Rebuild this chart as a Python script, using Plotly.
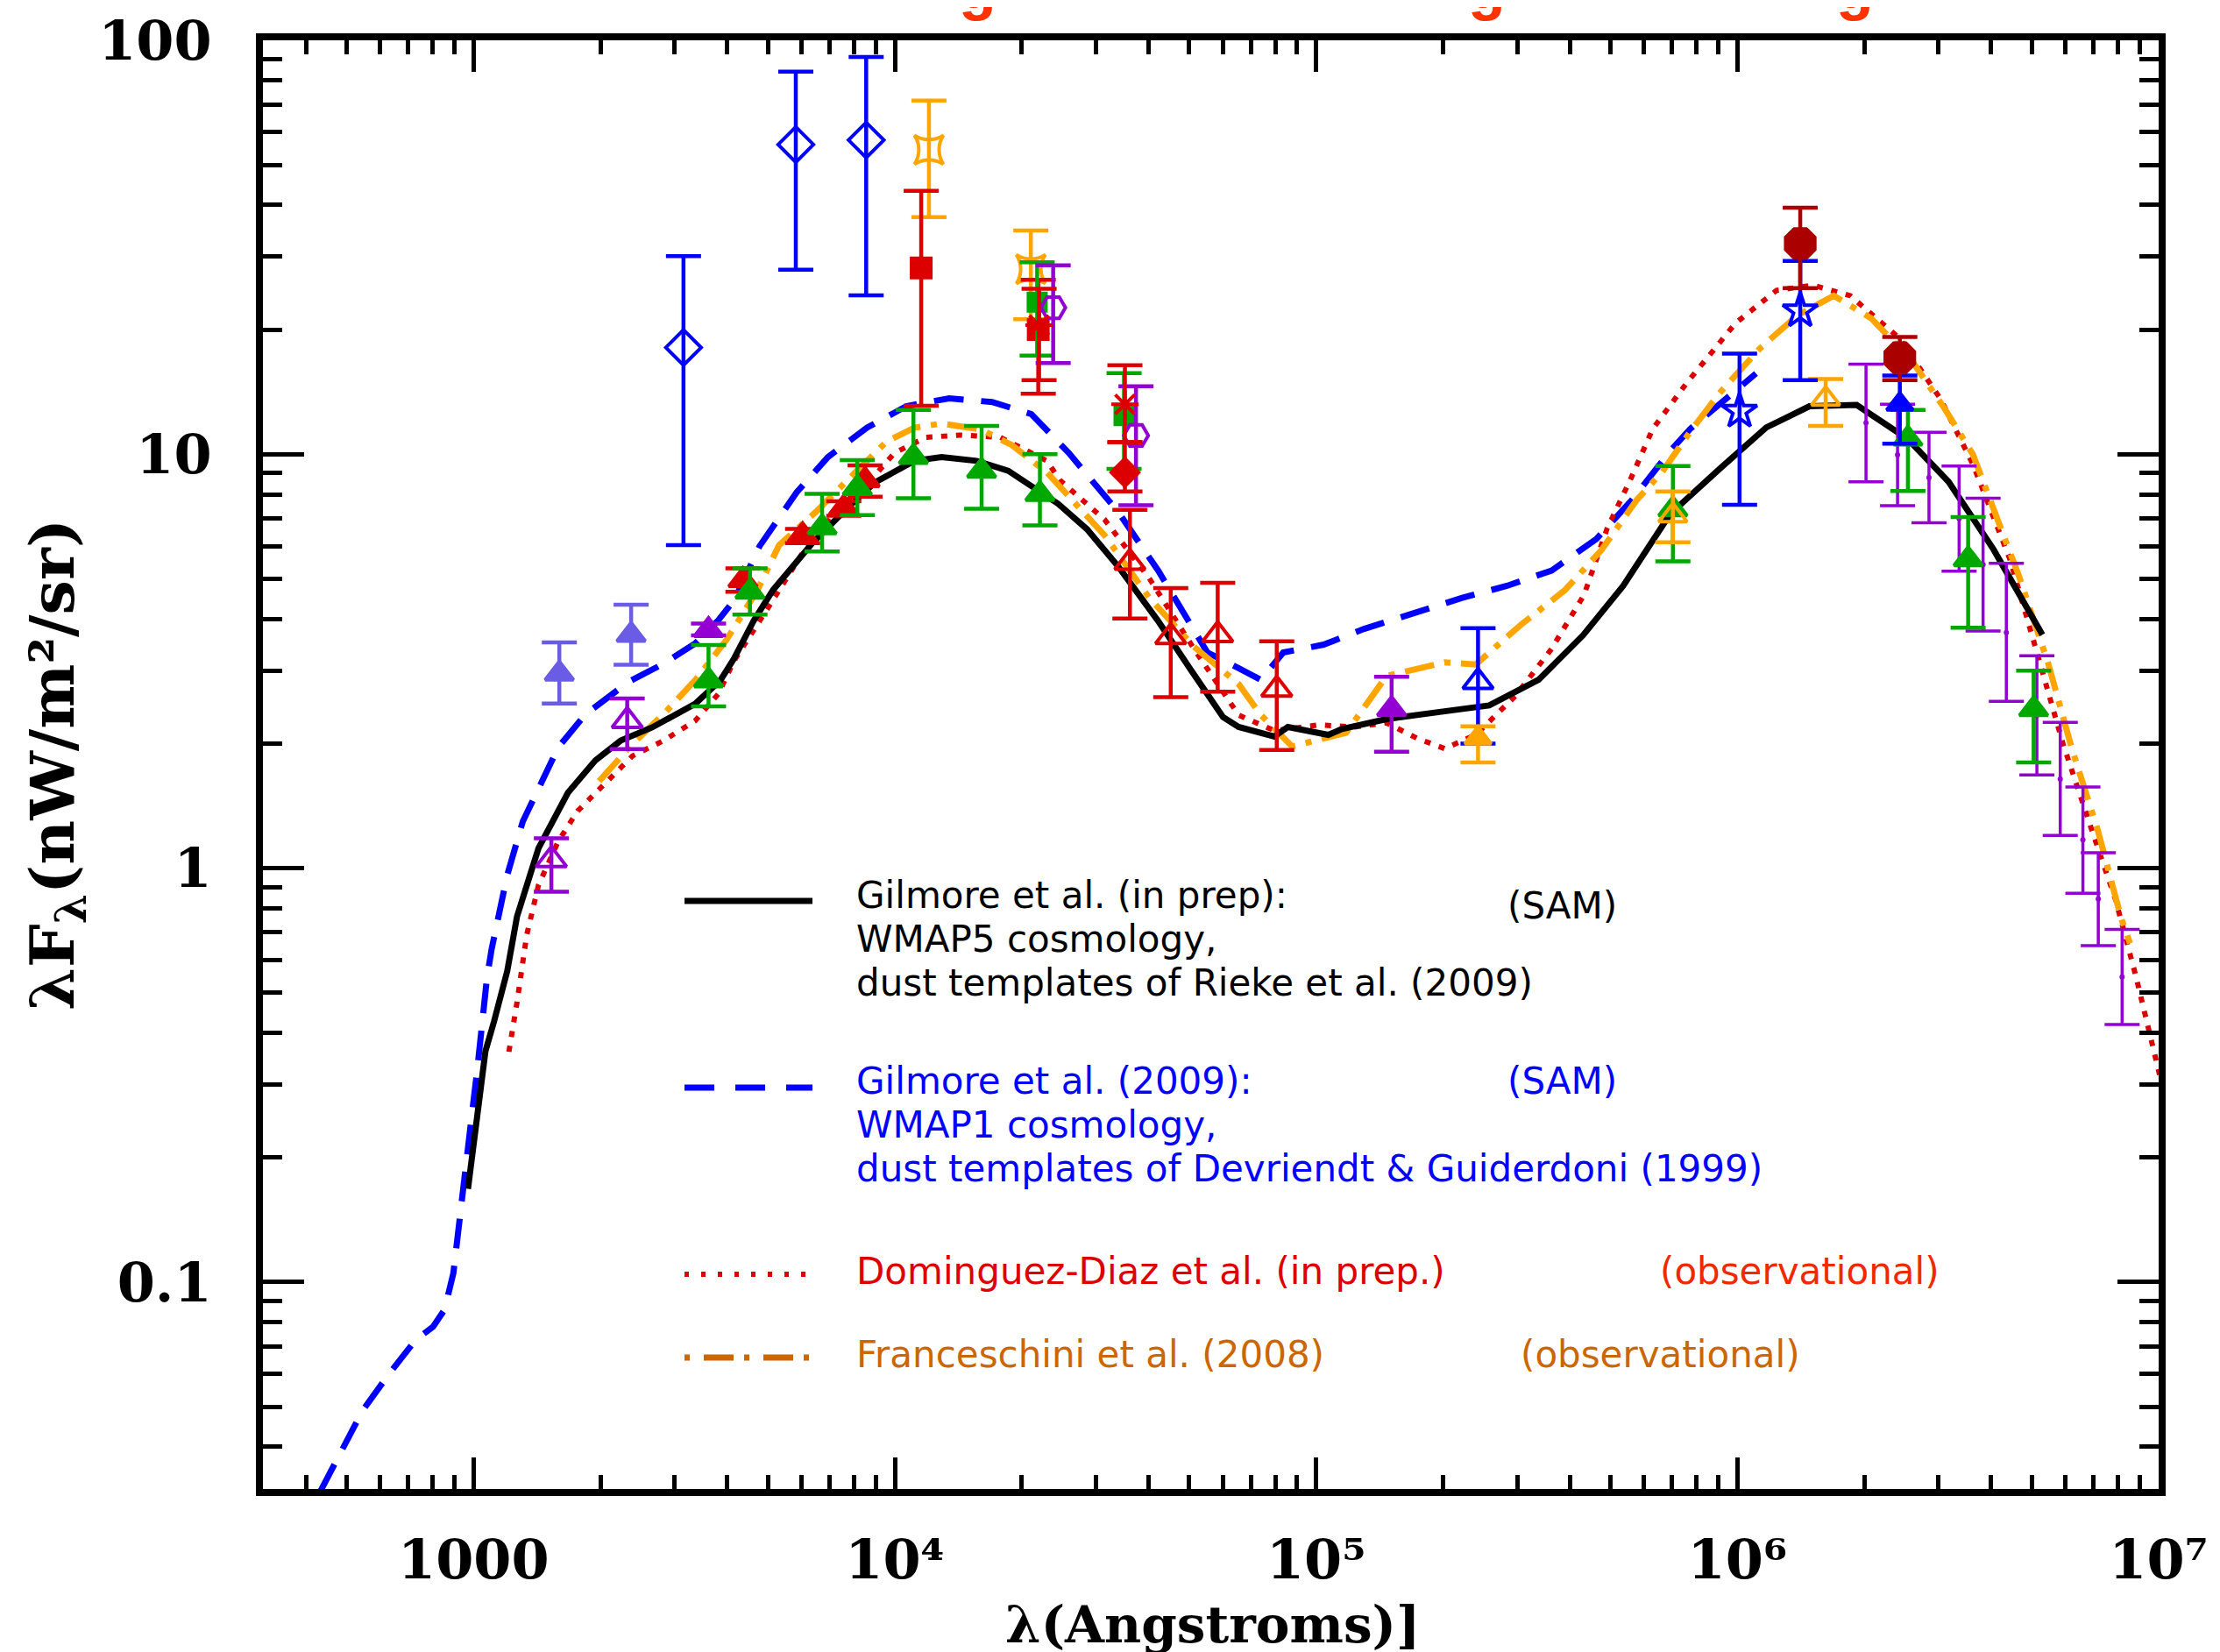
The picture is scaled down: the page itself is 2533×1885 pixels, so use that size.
import plotly.graph_objects as go

# ---------------- model curves (wavelength in Angstrom, nuFnu in nW/m^2/sr) -------------
gil_wl = [970, 1019, 1067, 1119, 1202, 1268, 1426, 1675, 1945, 2234, 2655, 3357, 3855, 4150,
          4624, 5140, 6368, 7727, 8974, 11120, 12910, 15630, 18580, 24430, 28580, 33880, 42170,
          50120, 60120, 65460, 79620, 85700, 106900, 115100, 146900, 201800, 257600, 337300,
          430500, 535800, 691800, 905700, 1.172e6, 1.483e6, 1.919e6, 2.535e6, 3.170e6, 4.055e6,
          5.297e6]
gil_f = [0.168, 0.253, 0.361, 0.427, 0.564, 0.764, 1.117, 1.521, 1.820, 2.032, 2.188, 2.495,
         2.844, 3.206, 3.963, 4.699, 6.095, 7.430, 8.551, 9.638, 9.840, 9.638, 9.120, 7.586,
         6.592, 5.358, 3.954, 3.041, 2.317, 2.193, 2.080, 2.193, 2.099, 2.168, 2.291, 2.393,
         2.472, 2.851, 3.656, 4.808, 7.161, 9.204, 11.61, 13.06, 13.15, 10.89, 8.590, 5.888,
         3.664]

g09_wl = [433.5, 488.7, 545.8, 631, 727.8, 801.7, 853.1, 895.4, 924.7, 955, 986.3, 1019, 1050,
          1076, 1104, 1202, 1309, 1426, 1589, 1845, 2333, 2825, 3357, 3811, 4159, 4775, 5848,
          6934, 8590, 10640, 13460, 17020, 21090, 25880, 33880, 42170, 55210, 65460, 73960,
          83560, 104200, 130000, 174200, 222300, 283800, 362200, 462400, 562300, 698200,
          772700, 1.107e6]
g09_f = [0.0313, 0.0399, 0.0490, 0.0601, 0.0724, 0.0780, 0.0857, 0.105, 0.136, 0.177, 0.244,
         0.322, 0.427, 0.543, 0.638, 0.962, 1.297, 1.563, 1.959, 2.355, 2.818, 3.119, 3.491,
         3.972, 4.446, 5.998, 8.091, 9.840, 11.59, 13.06, 13.65, 13.37, 12.50, 10.07, 7.261,
         5.236, 3.319, 3.041, 2.851, 3.319, 3.467, 3.784, 4.169, 4.498, 4.808, 5.236, 6.237,
         7.762, 10.28, 11.51, 15.67]

dom_wl = [1213, 1268, 1337, 1426, 1589, 1766, 1968, 2382, 2825, 3357, 3811, 4159, 5140, 6109,
          7244, 8590, 9977, 11860, 14360, 17780, 22960, 24660, 31480, 40180, 51290, 65460,
          79620, 101600, 123600, 146900, 174200, 201800, 239300, 297800, 362200, 432500,
          490900, 558500, 629500, 756800, 990800, 1.239e6, 1.514e6, 1.854e6, 2.427e6, 3.034e6,
          3.622e6, 4.436e6, 5.058e6, 5.929e6, 6.950e6, 7.907e6, 8.831e6, 1.005e7]
dom_f = [0.360, 0.474, 0.689, 0.910, 1.161, 1.374, 1.535, 1.866, 2.032, 2.270, 2.636, 3.177,
         4.446, 5.888, 7.261, 8.453, 10.07, 10.99, 11.12, 10.99, 9.638, 8.650, 6.950, 5.012,
         3.388, 2.344, 2.148, 2.218, 2.193, 2.244, 2.056, 1.945, 2.099, 2.612, 3.388, 4.571,
         6.622, 8.730, 11.51, 14.83, 20.75, 24.89, 25.59, 24.15, 19.05, 13.61, 9.462, 5.572,
         3.516, 1.995, 1.230, 0.837, 0.548, 0.317]

fra_wl = [1986, 2382, 2825, 3357, 3981, 4721, 5309, 6501, 8054, 9572, 11120, 12910, 16000,
          18970, 22960, 31480, 40180, 51290, 65460, 73960, 87700, 117800, 146900, 201800,
          239300, 305500, 389900, 475300, 575400, 663700, 767400, 905700, 1.132e6, 1.387e6,
          1.694e6, 2.075e6, 2.594e6, 3.105e6, 3.622e6, 4.345e6, 4.667e6, 5.470e6, 6.209e6,
          7.178e6, 8.147e6, 8.551e6]
fra_f = [1.622, 1.995, 2.355, 2.844, 3.556, 4.699, 6.026, 7.261, 9.036, 10.74, 11.59, 11.86,
         11.48, 10.52, 9.036, 6.368, 4.498, 3.428, 2.786, 2.344, 1.968, 2.123, 2.911, 3.141,
         3.105, 3.864, 4.699, 5.861, 7.727, 9.078, 11.22, 14.03, 18.03, 21.63, 24.15, 21.33,
         16.83, 12.88, 10.0, 6.053, 5.058, 3.119, 1.959, 1.230, 0.757, 0.658]

# ---------------- data points: wavelength, value, upper end, lower end -------------------
bdia_wl = [3150, 5820, 8550]
bdia_f = [18.1, 56.0, 57.4]
bdia_hi = [30.1, 84.0, 91.2]
bdia_lo = [6.03, 27.9, 24.2]

ostar_wl = [12050, 21030]
ostar_f = [54.4, 28.0]
ostar_hi = [71.5, 34.7]
ostar_lo = [37.4, 21.2]

rsq_wl = [11550, 21900]
rsq_f = [28.2, 20.0]
rsq_hi = [43.3, 26.4]
rsq_lo = [13.1, 14.0]

gsq_wl = [21770, 35000]
gsq_f = [23.3, 12.4]
gsq_hi = [29.1, 15.7]
gsq_lo = [17.3, 9.22]

phex_wl = [23760, 37360]
phex_f = [22.6, 11.1]
phex_hi = [28.6, 14.6]
phex_lo = [16.6, 7.53]

rast_wl = [22000, 35170]
rast_f = [20.5, 13.2]
rast_hi = [25.1, 16.4]
rast_lo = [15.1, 10.7]

rdia_wl = [35170]
rdia_f = [9.04]
rdia_hi = [10.7]
rdia_lo = [8.13]

rtri_o_wl = [36140, 45180, 58400, 80650]
rtri_o_f = [5.47, 3.62, 3.66, 2.70]
rtri_o_hi = [7.34, 4.75, 4.89, 3.53]
rtri_o_lo = [4.01, 2.59, 2.67, 1.93]

ptri_wl = [3612, 151100]
ptri_f = [3.76, 2.42]
ptri_hi = [3.90, 2.90]
ptri_lo = [3.65, 1.91]

btri_o_wl = [242300]
btri_o_f = [2.82]
btri_o_hi = [3.80]
btri_o_lo = [2.00]

otri_wl = [242300]
otri_f = [2.06]
otri_hi = [2.20]
otri_lo = [1.80]

gtri_wl = [3612, 4530, 6720, 8147, 11070, 16070, 22100, 7.03e5, 2.54e6, 3.53e6, 5.05e6]
gtri_f = [2.84, 4.65, 6.66, 8.28, 9.85, 9.12, 8.01, 7.36, 10.9, 5.57, 2.42]
gtri_hi = [3.46, 5.30, 8.02, 9.68, 12.8, 11.7, 10.0, 9.36, 12.8, 7.05, 3.00]
gtri_lo = [2.46, 4.10, 5.82, 7.13, 7.83, 7.38, 6.73, 5.51, 8.15, 3.81, 1.80]

rtri_wl = [4360, 6040, 7565, 8500]
rtri_f = [4.96, 6.37, 7.42, 8.65]
rtri_hi = [5.30, 6.60, 7.70, 9.40]
rtri_lo = [4.65, 6.10, 7.10, 7.90]

stri_wl = [1598, 2366]
stri_f = [2.95, 3.66]
stri_hi = [3.51, 4.33]
stri_lo = [2.50, 3.10]

ptri_o_wl = [1530, 2316]
ptri_o_f = [1.047, 2.27]
ptri_o_hi = [1.18, 2.57]
ptri_o_lo = [0.877, 1.94]

doct_wl = [1.41e6, 2.43e6]
doct_f = [32.3, 17.1]
doct_hi = [39.4, 19.2]
doct_lo = [25.2, 15.1]

bstar_wl = [1.012e6, 1.41e6]
bstar_f = [12.7, 22.2]
bstar_hi = [17.5, 29.3]
bstar_lo = [7.55, 15.1]

btri_wl = [2.43e6]
btri_f = [13.2]
btri_hi = [15.5]
btri_lo = [10.6]

otri_o_wl = [7.03e5, 1.62e6]
otri_o_f = [7.11, 13.6]
otri_o_hi = [8.13, 15.2]
otri_o_lo = [6.13, 11.7]

pbar_wl = [2.02e6, 2.40e6, 2.85e6, 3.36e6, 3.83e6, 4.35e6, 5.14e6, 5.84e6, 6.61e6, 7.19e6, 8.19e6]
pbar_f = [11.9, 9.96, 8.78, 6.99, 5.41, 3.71, 2.34, 1.64, 1.17, 0.842, 0.546]
pbar_hi = [16.5, 13.2, 11.3, 9.36, 7.83, 5.45, 3.26, 2.25, 1.57, 1.09, 0.711]
pbar_lo = [8.58, 7.51, 6.83, 5.22, 3.74, 2.53, 1.68, 1.20, 0.87, 0.65, 0.419]

# ---------------- tick labels -------------------
x_tickvals = [1000, 1e4, 1e5, 1e6, 1e7]
x_ticktext = ["1000", "10⁴", "10⁵", "10⁶", "10⁷"]
y_tickvals = [0.1, 1, 10, 100]
y_ticktext = ["0.1", "1", "10", "100"]

BLUE = "#0000ff"
ORANGE = "#ffa500"
RED = "#dd0000"
GREEN = "#00a800"
PURPLE = "#9400d3"
SLATE = "#6b5ce6"
DARKRED = "#aa0000"

fig = go.Figure()

# model lines
fig.add_trace(go.Scatter(x=g09_wl, y=g09_f, mode="lines",
                         line=dict(color=BLUE, width=7, dash="34px,20px")))
fig.add_trace(go.Scatter(x=dom_wl, y=dom_f, mode="lines",
                         line=dict(color=RED, width=6, dash="7px,10px")))
fig.add_trace(go.Scatter(x=fra_wl, y=fra_f, mode="lines",
                         line=dict(color=ORANGE, width=7, dash="34px,12px,7px,12px")))
fig.add_trace(go.Scatter(x=gil_wl, y=gil_f, mode="lines",
                         line=dict(color="black", width=7)))


def add_pts(wl, f, hi, lo, color, symbol, size, lw=4, ethick=4.5, ewidth=20):
    plus = [h - v for h, v in zip(hi, f)]
    minus = [v - l for v, l in zip(f, lo)]
    fig.add_trace(go.Scatter(
        x=wl, y=f, mode="markers",
        marker=dict(symbol=symbol, size=size, color=color,
                    line=dict(color=color, width=lw)),
        error_y=dict(type="data", symmetric=False, array=plus, arrayminus=minus,
                     color=color, thickness=ethick, width=ewidth),
    ))


add_pts(pbar_wl, pbar_f, pbar_hi, pbar_lo, PURPLE, "circle", 0, lw=0, ethick=3.5, ewidth=20)
add_pts(bdia_wl, bdia_f, bdia_hi, bdia_lo, BLUE, "diamond-open", 31)
add_pts(ostar_wl, ostar_f, ostar_hi, ostar_lo, ORANGE, "star-square-open", 30)
add_pts(rsq_wl, rsq_f, rsq_hi, rsq_lo, RED, "square", 22)
add_pts(gsq_wl, gsq_f, gsq_hi, gsq_lo, GREEN, "square", 20)
add_pts(phex_wl, phex_f, phex_hi, phex_lo, PURPLE, "hexagon2-open", 28)
add_pts(rast_wl, rast_f, rast_hi, rast_lo, RED, "asterisk-open", 26)
add_pts(rdia_wl, rdia_f, rdia_hi, rdia_lo, RED, "diamond", 24)
add_pts(rtri_o_wl, rtri_o_f, rtri_o_hi, rtri_o_lo, RED, "triangle-up-open", 30)
add_pts(ptri_wl, ptri_f, ptri_hi, ptri_lo, PURPLE, "triangle-up", 28)
add_pts(btri_o_wl, btri_o_f, btri_o_hi, btri_o_lo, BLUE, "triangle-up-open", 30)
add_pts(otri_wl, otri_f, otri_hi, otri_lo, ORANGE, "triangle-up", 26)
add_pts(rtri_wl, rtri_f, rtri_hi, rtri_lo, RED, "triangle-up", 28)
add_pts(gtri_wl, gtri_f, gtri_hi, gtri_lo, GREEN, "triangle-up", 28)
add_pts(stri_wl, stri_f, stri_hi, stri_lo, SLATE, "triangle-up", 28)
add_pts(ptri_o_wl, ptri_o_f, ptri_o_hi, ptri_o_lo, PURPLE, "triangle-up-open", 30)
add_pts(otri_o_wl, otri_o_f, otri_o_hi, otri_o_lo, ORANGE, "triangle-up-open", 28)
add_pts(bstar_wl, bstar_f, bstar_hi, bstar_lo, BLUE, "star-open", 30)
add_pts(btri_wl, btri_f, btri_hi, btri_lo, BLUE, "triangle-up", 26)
add_pts(doct_wl, doct_f, doct_hi, doct_lo, DARKRED, "octagon", 36)

# ---------------- layout -------------------
W, H = 2533, 1885
L, R, T, B = 292, 78, 38, 194
PW, PH = W - L - R, H - T - B


def px_x(px):
    return (px - L) / PW


def px_y(py):
    return (H - B - py) / PH


x_minor = [m * 10 ** e for e in range(2, 7) for m in range(2, 10) if m * 10 ** e > 316]
y_minor = [m * 10.0 ** e for e in range(-2, 2) for m in range(2, 10) if m * 10.0 ** e > 0.0316]

axis_common = dict(type="log", showline=True, linewidth=8, linecolor="black",
                   mirror="allticks", ticks="inside", tickwidth=5, tickcolor="black",
                   showgrid=False, zeroline=False,
                   tickfont=dict(family="DejaVu Serif", size=62, color="black", weight="bold"))

fig.update_layout(
    width=W, height=H,
    margin=dict(l=L, r=R, t=T, b=B, autoexpand=False),
    paper_bgcolor="white", plot_bgcolor="white",
    showlegend=False,
    xaxis=dict(**axis_common, range=[2.5, 7], ticklen=36, tickmode="array",
               tickvals=x_tickvals, ticktext=x_ticktext, ticklabelstandoff=20,
               minor=dict(ticks="inside", ticklen=16, tickwidth=5, tickcolor="black",
                          tickmode="array", tickvals=x_minor, showgrid=False)),
    yaxis=dict(**axis_common, range=[-1.5, 2], ticklen=47, tickmode="array",
               tickvals=y_tickvals, ticktext=y_ticktext, ticklabelstandoff=38,
               minor=dict(ticks="inside", ticklen=22, tickwidth=5, tickcolor="black",
                          tickmode="array", tickvals=y_minor, showgrid=False),
               title=dict(text="λF<sub>λ</sub>(nW/m²/sr)", standoff=8,
                          font=dict(family="DejaVu Serif", size=70, color="black",
                                    weight="bold"))),
)

# legend drawn inside the plot
LEG_FONT = "DejaVu Sans"
LEG_SIZE = 42
sample_x0, sample_x1 = px_x(773), px_x(919)
shapes = [
    dict(type="line", xref="paper", yref="paper", x0=sample_x0, x1=sample_x1,
         y0=px_y(1020), y1=px_y(1020), line=dict(color="black", width=7)),
    dict(type="line", xref="paper", yref="paper", x0=sample_x0, x1=sample_x1,
         y0=px_y(1233), y1=px_y(1233), line=dict(color=BLUE, width=7, dash="34px,24px")),
    dict(type="line", xref="paper", yref="paper", x0=sample_x0, x1=sample_x1,
         y0=px_y(1446), y1=px_y(1446), line=dict(color=RED, width=6, dash="5px,14px")),
    dict(type="line", xref="paper", yref="paper", x0=sample_x0, x1=sample_x1,
         y0=px_y(1541), y1=px_y(1541),
         line=dict(color="#cc6600", width=7, dash="6px,16px,34px,12px")),
]

legend_texts = [
    ("Gilmore et al. (in prep):", 967, 1013, "black"),
    ("WMAP5 cosmology,", 967, 1063, "black"),
    ("dust templates of Rieke et al. (2009)", 967, 1113, "black"),
    ("(SAM)", 1710, 1025, "black"),
    ("Gilmore et al. (2009):", 967, 1225, BLUE),
    ("WMAP1 cosmology,", 967, 1275, BLUE),
    ("dust templates of Devriendt &amp; Guiderdoni (1999)", 967, 1325, BLUE),
    ("(SAM)", 1710, 1225, BLUE),
    ("Dominguez-Diaz et al. (in prep.)", 967, 1442, RED),
    ("(observational)", 1884, 1442, "#f02800"),
    ("Franceschini et al. (2008)", 967, 1537, "#cc6600"),
    ("(observational)", 1725, 1537, "#cc6600"),
]
annotations = []
for txt, xp, yp, col in legend_texts:
    annotations.append(dict(text=txt, xref="paper", yref="paper", x=px_x(xp), y=px_y(yp),
                            xanchor="left", yanchor="middle", showarrow=False,
                            font=dict(family=LEG_FONT, size=LEG_SIZE, color=col)))

# x-axis title
annotations.append(dict(text="λ(Angstroms)]", xref="paper", yref="paper",
                        x=px_x(1375), y=px_y(1846), xanchor="center", yanchor="middle",
                        showarrow=False,
                        font=dict(family="DejaVu Serif", size=58, color="black",
                                  weight="bold")))

# bottoms of the (cropped) red title letters visible at the top edge
for xp in [1107, 1688, 2108]:
    annotations.append(dict(text="g", xref="paper", yref="paper", x=px_x(xp), y=px_y(-23),
                            xanchor="center", yanchor="middle", showarrow=False,
                            font=dict(family="Liberation Sans", size=70, color="#ff3300",
                                      weight="bold")))

fig.update_layout(shapes=shapes, annotations=annotations)

fig.write_html("out.html")
